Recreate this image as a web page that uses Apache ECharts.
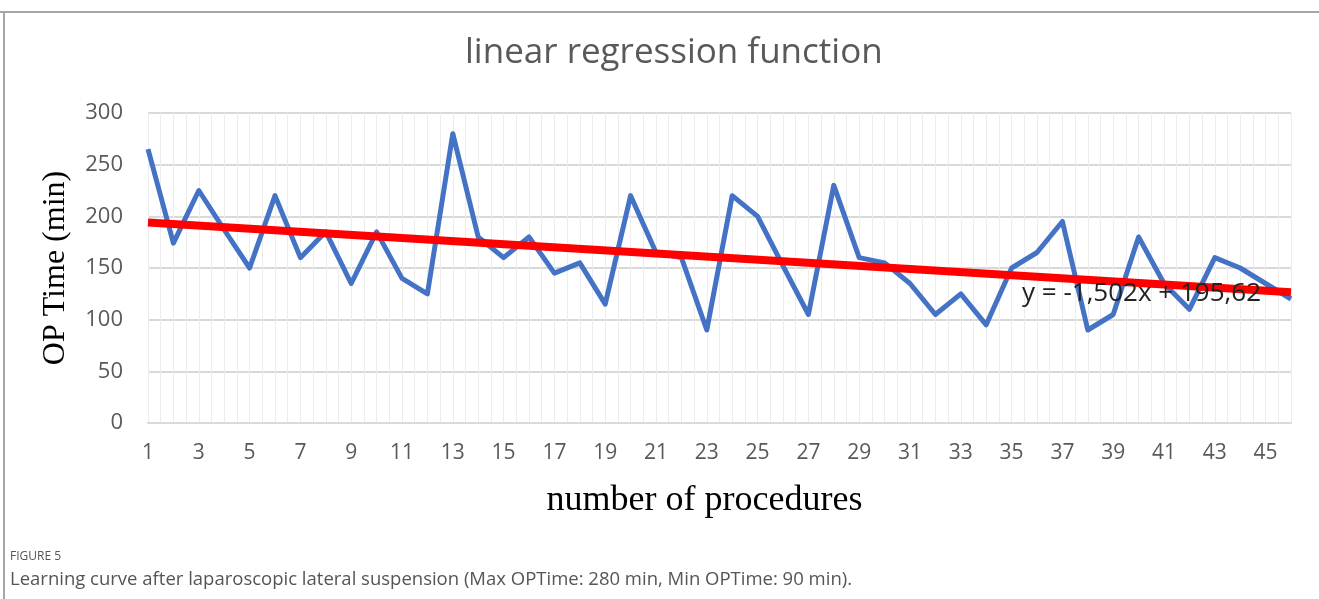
<!DOCTYPE html>
<html>
<head>
<meta charset="utf-8">
<script src="https://cdn.jsdelivr.net/npm/echarts@6/dist/echarts.min.js"></script>
<style>
html,body{margin:0;padding:0;background:#fff;}
#chart{width:1319px;height:599px;}
</style>
</head>
<body>
<div id="chart"></div>
<script>
// ---- data ----
const procedures = [1,2,3,4,5,6,7,8,9,10,11,12,13,14,15,16,17,18,19,20,21,22,23,24,25,26,27,28,29,30,31,32,33,34,35,36,37,38,39,40,41,42,43,44,45,46];
const opTime = [265,174,225,187,150,220,160,185,135,185,140,125,280,180,160,180,145,155,115,220,165,160,90,220,200,152,105,230,160,155,135,105,125,95,150,165,195,90,105,180,135,110,160,150,135,120];
const trendSlope = -1.502;
const trendIntercept = 195.62;
const trendLabel = 'y = -1,502x + 195,62';
const yTicks = [0,50,100,150,200,250,300];

const trendData = [procedures[0], procedures[procedures.length-1]].map(x => [x, trendIntercept + trendSlope * x]);
const seriesData = procedures.map((p, i) => [p, opTime[i]]);

const chart = echarts.init(document.getElementById('chart'));
const labelFont = '"Open Sans", "Noto Sans", sans-serif';
chart.setOption({
  animation: false,
  backgroundColor: '#fff',
  title: {
    text: 'linear regression function',
    left: 460,
    top: 31,
    textStyle: {fontFamily: labelFont, fontSize: 35, fontWeight: 'normal', color: '#595959'}
  },
  grid: {left: 148, right: 28, top: 113, bottom: 176, containLabel: false},
  xAxis: {
    type: 'value',
    min: 1, max: 46, interval: 0.5,
    name: 'number of procedures',
    nameLocation: 'middle',
    nameGap: 60,
    nameTextStyle: {fontFamily: '"Liberation Serif", "DejaVu Serif", serif', fontSize: 36, color: '#000', padding: [0, 30, 0, 0]},
    axisLine: {show: true, lineStyle: {color: '#d9d9d9', width: 2}},
    axisTick: {show: false},
    axisLabel: {
      margin: 20, fontFamily: labelFont, fontSize: 21, color: '#595959',
      formatter: v => (Number.isInteger(v) && v % 2 === 1) ? String(v) : '',
      showMaxLabel: false
    },
    splitLine: {show: true, lineStyle: {color: '#ededed', width: 1}}
  },
  yAxis: {
    type: 'value',
    min: yTicks[0], max: yTicks[yTicks.length-1], interval: 50,
    name: 'OP Time (min)',
    nameLocation: 'middle',
    nameRotate: 90,
    nameGap: 76,
    nameTextStyle: {fontFamily: '"Liberation Serif", "DejaVu Serif", serif', fontSize: 32, color: '#000'},
    axisLine: {show: false},
    axisTick: {show: false},
    axisLabel: {margin: 25, fontFamily: labelFont, fontSize: 22, color: '#595959'},
    splitLine: {show: true, lineStyle: {color: '#d9d9d9', width: 2}}
  },
  series: [
    {
      type: 'line',
      data: seriesData,
      symbol: 'none',
      lineStyle: {color: '#4472C4', width: 5, join: 'round'},
      z: 2
    },
    {
      type: 'line',
      data: trendData,
      symbol: 'none',
      lineStyle: {color: '#FF0000', width: 8},
      z: 3
    }
  ],
  graphic: [
    {type: 'line', shape: {x1: 0, y1: 12, x2: 1319, y2: 12}, style: {stroke: '#a6a6a6', lineWidth: 2}, z: 10},
    {type: 'line', shape: {x1: 4, y1: 12, x2: 4, y2: 599}, style: {stroke: '#a6a6a6', lineWidth: 2}, z: 10},
    {type: 'text', left: 1022, top: 281, z: 20,
     style: {text: trendLabel, font: '26px "Open Sans", "Noto Sans", sans-serif', fill: '#222'}},
    {type: 'text', left: 10, top: 551,
     style: {text: 'FIGURE 5', font: '12px "Open Sans", "Noto Sans", sans-serif', fill: '#555'}},
    {type: 'text', left: 10, top: 570,
     style: {text: 'Learning curve after laparoscopic lateral suspension (Max OPTime: 280 min, Min OPTime: 90 min).', font: '18.5px "Open Sans", "Noto Sans", sans-serif', fill: '#555'}}
  ]
});
</script>
</body>
</html>
